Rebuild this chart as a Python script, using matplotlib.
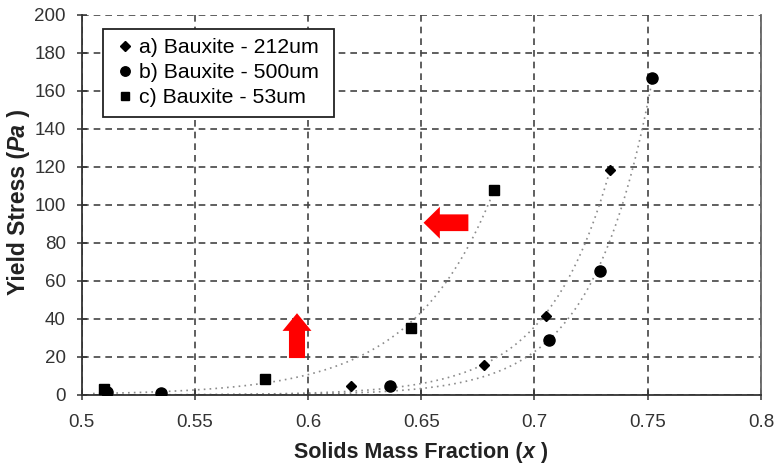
import numpy as np
import matplotlib
matplotlib.use("Agg")
import matplotlib.pyplot as plt
from matplotlib.patches import FancyArrow

plt.rcParams['font.family'] = ['Liberation Sans', 'DejaVu Sans']

# Data
x_a = [0.619, 0.6775, 0.7053, 0.7333]
y_a = [4.8, 15.7, 41.5, 118.5]
x_b = [0.511, 0.5352, 0.636, 0.7065, 0.7288, 0.752]
y_b = [1.5, 1.0, 4.7, 28.8, 65.0, 166.8]
x_c = [0.510, 0.5808, 0.6454, 0.682]
y_c = [3.0, 8.4, 35.0, 108.0]
labels = ['a) Bauxite - 212um', 'b) Bauxite - 500um', 'c) Bauxite - 53um']
xticks = [0.5, 0.55, 0.6, 0.65, 0.7, 0.75, 0.8]
xticklabels = ['0.5', '0.55', '0.6', '0.65', '0.7', '0.75', '0.8']
yticks = [0, 20, 40, 60, 80, 100, 120, 140, 160, 180, 200]
xlabel_parts = [('Solids Mass Fraction (', 'normal'), ('x', 'italic'), (' )', 'normal')]
ylabel_parts = [('Yield Stress (', 'normal'), ('Pa', 'italic'), (' )', 'normal')]

fig = plt.figure(figsize=(7.78, 4.63), dpi=100)
ax = fig.add_axes([0.105, 0.147, 0.873, 0.821])
ax.set_xlim(0.5, 0.8)
ax.set_ylim(0, 200)

ax.set_xticks(xticks)
ax.set_xticklabels(xticklabels)
ax.set_yticks(yticks)
ax.grid(True, linestyle=(0, (4, 3)), color='#444444', linewidth=1.2, zorder=0)

# exponential trendlines (least squares weighted toward larger values)
def trend(xs, ys, x0, x1):
    xs = np.array(xs); ys = np.array(ys)
    b, a = np.polyfit(xs, np.log(ys), 1, w=ys)
    xx = np.linspace(x0, x1, 200)
    return xx, np.exp(a + b * xx)

for xs, ys in [(x_a, y_a), (x_b, y_b), (x_c, y_c)]:
    xx, yy = trend(xs, ys, 0.505, xs[-1])
    ax.plot(xx, yy, linestyle=(0, (1, 2.5)), color='#8c8c8c', linewidth=1.2, zorder=2)

ax.plot(x_a, y_a, 'D', color='black', markersize=5.5, linestyle='none', label=labels[0] + ' ', zorder=4)
ax.plot(x_b, y_b, 'o', color='black', markersize=8, linestyle='none', label=labels[1] + ' ', zorder=4)
ax.plot(x_c, y_c, 's', color='black', markersize=7, linestyle='none', label=labels[2] + ' ', zorder=4)

# red arrows
ax.add_patch(FancyArrow(0.6708, 90.6, -0.0198, 0, width=8.8, head_width=16.8,
                        head_length=0.0072, length_includes_head=True,
                        color='#ff0000', zorder=5, linewidth=0))
ax.add_patch(FancyArrow(0.5951, 19.4, 0, 23.6, width=0.0071, head_width=0.0128,
                        head_length=9.3, length_includes_head=True,
                        color='#ff0000', zorder=5, linewidth=0))

for s in ['left', 'bottom', 'right']:
    ax.spines[s].set_color('#333333')
    ax.spines[s].set_linewidth(1.3)
ax.spines['right'].set_color('#666666')
ax.spines['top'].set_visible(False)

ax.tick_params(axis='both', direction='inout', length=7, width=1.1, color='#333333',
               labelsize=13.5, labelcolor='#333333')
ax.tick_params(axis='x', pad=10)
ax.tick_params(axis='y', pad=8)

leg = ax.legend(loc='upper left', bbox_to_anchor=(0.031, 0.963), fontsize=15.3,
                frameon=True, fancybox=False, edgecolor='#222222', handlelength=1.2,
                handletextpad=0.05, borderpad=0.45, labelspacing=0.28, borderaxespad=0,
                markerscale=0.85)
leg.get_frame().set_linewidth(1.3)
leg.get_frame().set_facecolor('white')
leg.get_frame().set_alpha(1)

# Composite axis labels (mixed italic), centred by measuring pieces
fig.canvas.draw()
renderer = fig.canvas.get_renderer()
W, H = fig.get_size_inches() * fig.dpi

def place_parts(parts, fs, center_px, fixed_px, vertical):
    arts = []
    for txt, sty in parts:
        t = fig.text(0, 0, txt, fontsize=fs, fontweight='bold', style=sty, color='#222222',
                     rotation=90 if vertical else 0, ha='left',
                     va='bottom' if vertical else 'baseline', rotation_mode='anchor')
        arts.append(t)
    fig.canvas.draw()
    lens = []
    for t in arts:
        bb = t.get_window_extent(renderer)
        lens.append(bb.height if vertical else bb.width)
    total = sum(lens)
    pos = center_px - total / 2
    for t, L in zip(arts, lens):
        if vertical:
            t.set_position((fixed_px / W, pos / H))
        else:
            t.set_position((pos / W, fixed_px / H))
        pos += L

# x label: centred on axis (~421 px), baseline ~ 458 px from top
place_parts(xlabel_parts, 15.5, 421, H - 458, False)
# y label: centred at ~202 px from top, baseline at x ~ 30 px
place_parts(ylabel_parts, 16.5, H - 202, 30, True)

fig.savefig('out.png', dpi=100, facecolor='white')
